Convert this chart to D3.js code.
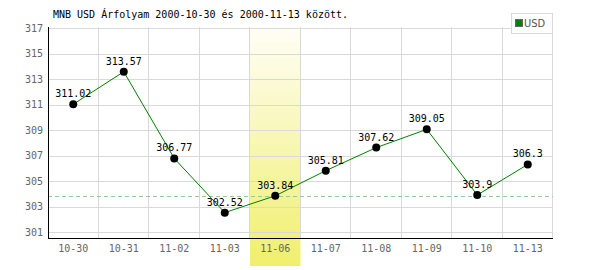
<!DOCTYPE html>
<html>
<head>
<meta charset="utf-8">
<script src="https://cdn.jsdelivr.net/npm/d3@7"></script>
<style>
	body { margin: 0; background: #fff; }
	svg { display: block; }
</style>
</head>
<body>
<svg class="chart" width="600" height="270"></svg>
<script>
// data
const dates = ["10-30", "10-31", "11-02", "11-03", "11-06", "11-07", "11-08", "11-09", "11-10", "11-13"]
const rates = [311.02, 313.57, 306.77, 302.52, 303.84, 305.81, 307.62, 309.05, 303.9, 306.3]
const yTicks = [301, 303, 305, 307, 309, 311, 313, 315, 317]
const highlight = "11-06"
const refValue = 303.84
const title = "MNB USD Árfolyam 2000-10-30 és 2000-11-13 között."
const seriesName = "USD"

const svg = d3.select('.chart')
const mLeft = 48, mRight = 553, mTop = 28, mBottom = 238
const mono = "'DejaVu Sans Mono', monospace"

const x = d3.scaleBand()
	.domain(dates)
	.range([mLeft, mRight])

const y = d3.scaleLinear()
	.domain([300.53, 317])
	.range([mBottom, mTop])

// gradient for the highlighted day
const grad = svg.append("defs").append("linearGradient")
	.attr("id", "hl").attr("x1", 0).attr("y1", 0).attr("x2", 0).attr("y2", 1)
grad.append("stop").attr("offset", "0%").attr("stop-color", "#fffef6")
grad.append("stop").attr("offset", "100%").attr("stop-color", "#f0ef6c")

svg.append("rect")
	.attr("x", x(highlight))
	.attr("y", mTop - 1)
	.attr("width", x.bandwidth())
	.attr("height", 267 - mTop)
	.attr("fill", "url(#hl)")

// grid
svg.append("g").selectAll("line")
	.data(yTicks)
	.enter().append("line")
	.attr("x1", mLeft).attr("x2", mRight)
	.attr("y1", d => Math.round(y(d)) + 0.5)
	.attr("y2", d => Math.round(y(d)) + 0.5)
	.style("stroke", "#d9d9d9")

svg.append("g").selectAll("line")
	.data(dates)
	.enter().append("line")
	.attr("x1", d => Math.round(x(d) + x.bandwidth()) - 0.5)
	.attr("x2", d => Math.round(x(d) + x.bandwidth()) - 0.5)
	.attr("y1", mTop - 1).attr("y2", mBottom)
	.style("stroke", "#d9d9d9")

// reference dashed line
svg.append("line")
	.attr("x1", mLeft).attr("x2", mRight)
	.attr("y1", Math.round(y(refValue)) + 0.5)
	.attr("y2", Math.round(y(refValue)) + 0.5)
	.style("stroke", "#99c999")
	.style("stroke-dasharray", "4,3")

// axes
const yAxis = svg.append("g")
	.attr("transform", `translate(${mLeft},0)`)
	.call(d3.axisLeft(y).tickValues(yTicks).tickSize(0).tickPadding(5))
yAxis.select(".domain").attr("d", `M0.5,${mTop - 1}V${mBottom}`).style("stroke", "#000")

const xAxis = svg.append("g")
	.attr("transform", `translate(0,${mBottom})`)
	.call(d3.axisBottom(x).tickSize(0).tickPadding(7))
xAxis.select(".domain").attr("d", `M${mLeft},0.5H${mRight}`).style("stroke", "#000")

svg.selectAll(".tick text")
	.style("font-family", mono)
	.style("font-size", "10px")
	.style("fill", "#666")

// line + points
const line = d3.line()
	.x((d, i) => x(dates[i]) + x.bandwidth() / 2)
	.y(d => y(d))

svg.append("path")
	.datum(rates)
	.attr("d", line)
	.style("fill", "none")
	.style("stroke", "#008000")
	.style("stroke-width", 1)

svg.append("g").selectAll("circle")
	.data(rates)
	.enter().append("circle")
	.attr("cx", (d, i) => x(dates[i]) + x.bandwidth() / 2)
	.attr("cy", d => y(d))
	.attr("r", 4)
	.style("fill", "#000")

svg.append("g").selectAll("text")
	.data(rates)
	.enter().append("text")
	.attr("x", (d, i) => x(dates[i]) + x.bandwidth() / 2)
	.attr("y", d => y(d) - 7)
	.attr("text-anchor", "middle")
	.style("font-family", mono)
	.style("font-size", "10px")
	.style("fill", "#000")
	.text(d => d)

// title
svg.append("text")
	.attr("x", 53).attr("y", 18)
	.style("font-family", mono)
	.style("font-size", "10px")
	.style("fill", "#000")
	.text(title)

// legend
svg.append("rect")
	.attr("x", 511.5).attr("y", 13.5)
	.attr("width", 41).attr("height", 20)
	.style("fill", "#fff").style("stroke", "#d9d9d9")
svg.append("rect")
	.attr("x", 515.5).attr("y", 19.5)
	.attr("width", 7).attr("height", 7)
	.style("fill", "#008000").style("stroke", "#666")
svg.append("text")
	.attr("x", 524).attr("y", 27)
	.style("font-family", "'Liberation Sans Narrow', 'DejaVu Sans Condensed', sans-serif")
	.style("font-size", "11px")
	.style("fill", "#555")
	.text(seriesName)
</script>
</body>
</html>
